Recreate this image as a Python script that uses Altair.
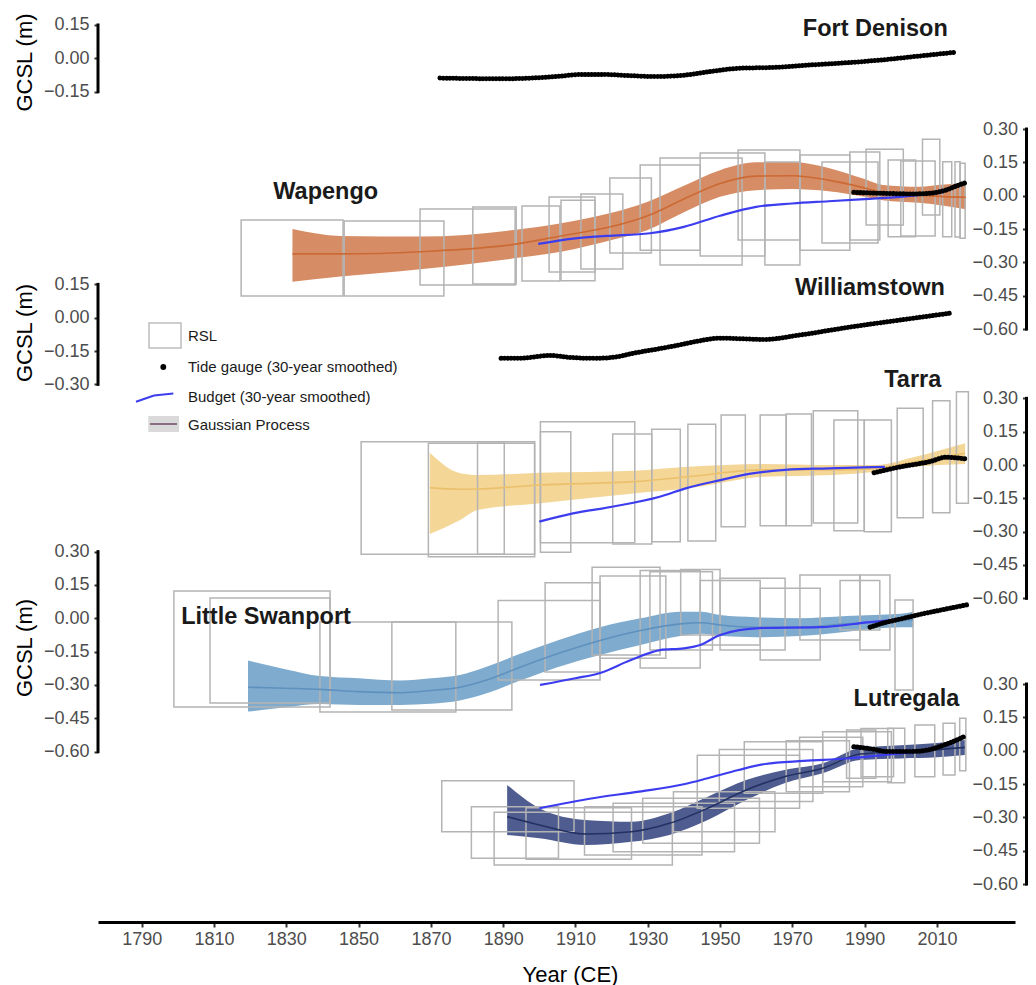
import altair as alt
import pandas as pd

FONT = "Liberation Sans"

# ================= DATA =================
# ---- Fort Denison: tide gauge (30-year smoothed)
fd_tide_year = [1872.5, 1880, 1890, 1900, 1906, 1911, 1918, 1925, 1932, 1940, 1948, 1955, 1965, 1975, 1985, 1995, 2005, 2015]
fd_tide_val = [-0.089, -0.091, -0.092, -0.087, -0.080, -0.073, -0.073, -0.078, -0.082, -0.076, -0.058, -0.045, -0.041, -0.030, -0.020, -0.007, 0.010, 0.027]

# ---- Wapengo
wap_box_x0 = [1817.5, 1846.0, 1867.0, 1881.6, 1895.2, 1902.7, 1906.0, 1911.5, 1919.5, 1927.9, 1933.4, 1944.5, 1955.0, 1962.4, 1972.1, 1978.2, 1985.9, 1990.4, 1996.5, 2000.0, 2006.0, 2011.6, 2015.0, 2016.4]
wap_box_x1 = [1845.7, 1873.6, 1893.3, 1893.6, 1905.7, 1915.4, 1915.4, 1923.1, 1931.0, 1944.5, 1956.1, 1962.4, 1972.1, 1972.1, 1985.9, 1993.7, 1994.2, 2000.7, 2004.1, 2009.5, 2010.8, 2014.1, 2016.4, 2017.8]
wap_box_lo = [-0.451, -0.451, -0.402, -0.397, -0.384, -0.343, -0.383, -0.330, -0.258, -0.245, -0.312, -0.271, -0.199, -0.312, -0.245, -0.213, -0.199, -0.132, -0.185, -0.181, -0.087, -0.185, -0.186, -0.192]
wap_box_hi = [-0.109, -0.114, -0.060, -0.051, -0.046, -0.006, -0.020, 0.008, 0.080, 0.138, 0.170, 0.192, 0.206, 0.152, 0.183, 0.152, 0.197, 0.209, 0.161, 0.156, 0.254, 0.153, 0.153, 0.146]
wap_gp_year = [1831.7, 1845, 1867, 1893, 1906, 1920, 1930, 1940, 1950, 1960, 1970, 1980, 1990, 1995, 2005, 2012, 2018]
wap_gp_mean = [-0.262, -0.262, -0.252, -0.219, -0.181, -0.139, -0.090, -0.015, 0.055, 0.088, 0.090, 0.070, 0.035, 0.015, 0.003, -0.004, -0.007]
wap_gp_lo = [-0.387, -0.364, -0.331, -0.282, -0.252, -0.199, -0.154, -0.075, -0.005, 0.025, 0.030, 0.020, -0.005, -0.020, -0.032, -0.045, -0.061]
wap_gp_hi = [-0.150, -0.181, -0.184, -0.154, -0.124, -0.077, -0.027, 0.045, 0.115, 0.150, 0.152, 0.125, 0.075, 0.048, 0.040, 0.050, 0.056]
wap_bud_year = [1899.7, 1910, 1918.6, 1930.6, 1940, 1950, 1960, 1970, 1980, 1990, 2000, 2010]
wap_bud_val = [-0.217, -0.192, -0.181, -0.169, -0.140, -0.090, -0.050, -0.035, -0.025, -0.015, -0.005, 0.010]
wap_tide_year = [1987, 1994.3, 2003.5, 2008, 2012.6, 2015.4, 2018]
wap_tide_val = [0.015, 0.011, 0.008, 0.011, 0.026, 0.044, 0.059]

# ---- Williamstown: tide gauge only
wil_tide_year = [1889.4, 1895, 1903, 1908, 1915, 1921, 1926, 1933, 1938, 1944, 1950, 1956, 1962, 1972, 1986, 2000, 2014]
wil_tide_val = [-0.183, -0.182, -0.170, -0.178, -0.183, -0.177, -0.160, -0.140, -0.125, -0.105, -0.092, -0.095, -0.098, -0.078, -0.042, -0.010, 0.021]

# ---- Tarra
tar_box_x0 = [1850.7, 1869.3, 1882.9, 1900.3, 1900.3, 1920.3, 1931.1, 1941.1, 1950.3, 1961.1, 1968.3, 1975.8, 1981.5, 1989.9, 1999.0, 2008.8, 2015.4]
tar_box_x1 = [1890.3, 1898.7, 1898.7, 1908.7, 1926.4, 1931.1, 1939.0, 1948.8, 1957.0, 1968.3, 1975.3, 1988.1, 1989.9, 1997.4, 2006.2, 2013.6, 2018.7]
tar_box_lo = [-0.402, -0.413, -0.402, -0.393, -0.350, -0.356, -0.345, -0.342, -0.278, -0.273, -0.273, -0.261, -0.296, -0.300, -0.237, -0.215, -0.172]
tar_box_hi = [0.105, 0.098, 0.105, 0.150, 0.195, 0.140, 0.161, 0.183, 0.225, 0.225, 0.230, 0.244, 0.203, 0.203, 0.255, 0.289, 0.330]
tar_gp_year = [1869.7, 1878.1, 1882.9, 1900.3, 1926.1, 1941.1, 1962.0, 1981.2, 1993.2, 2004.0, 2017.8]
tar_gp_mean = [-0.102, -0.109, -0.108, -0.090, -0.075, -0.053, -0.022, -0.022, -0.015, 0.015, 0.053]
tar_gp_lo = [-0.311, -0.248, -0.203, -0.172, -0.128, -0.105, -0.053, -0.045, -0.030, -0.008, 0.005]
tar_gp_hi = [0.055, -0.037, -0.045, -0.035, -0.026, -0.008, 0.005, 0.000, 0.000, 0.037, 0.098]
tar_bud_year = [1900.0, 1909.3, 1920.1, 1933.3, 1940.5, 1950.1, 1958, 1968, 1980, 1995.6]
tar_bud_val = [-0.255, -0.218, -0.188, -0.143, -0.105, -0.068, -0.040, -0.022, -0.015, -0.008]
tar_tide_year = [1992.6, 1996, 2000, 2004, 2008, 2012.5, 2015, 2018]
tar_tide_val = [-0.035, -0.022, -0.008, 0.003, 0.015, 0.035, 0.033, 0.027]

# ---- Little Swanport
ls_box_x0 = [1798.9, 1808.9, 1839.3, 1859.2, 1888.6, 1901.6, 1914.6, 1916.8, 1927.9, 1930.6, 1939.1, 1944.5, 1950.0, 1961.1, 1972.1, 1983.2, 1988.7, 1998.4]
ls_box_x1 = [1842.1, 1842.1, 1876.9, 1892.4, 1916.8, 1916.8, 1933.4, 1935.0, 1944.5, 1947.9, 1950.0, 1961.1, 1968.0, 1977.7, 1988.7, 1994.2, 1997.0, 2003.4]
ls_box_lo = [-0.399, -0.381, -0.422, -0.413, -0.278, -0.242, -0.165, -0.180, -0.224, -0.143, -0.075, -0.120, -0.143, -0.188, -0.098, -0.053, -0.143, -0.323]
ls_box_hi = [0.123, 0.091, -0.017, -0.017, 0.080, 0.160, 0.230, 0.190, 0.215, 0.210, 0.220, 0.170, 0.180, 0.135, 0.195, 0.170, 0.195, 0.082]
ls_gp_year = [1819.4, 1830, 1839.3, 1850, 1861.5, 1870, 1878, 1885, 1894.7, 1905, 1916.8, 1928, 1939, 1945, 1950, 1960, 1972, 1985, 2000, 2003.4]
ls_gp_mean = [-0.310, -0.315, -0.320, -0.330, -0.335, -0.325, -0.310, -0.280, -0.220, -0.160, -0.100, -0.055, -0.025, -0.020, -0.030, -0.040, -0.040, -0.025, -0.010, -0.005]
ls_gp_lo = [-0.420, -0.400, -0.386, -0.390, -0.390, -0.385, -0.370, -0.340, -0.280, -0.220, -0.165, -0.120, -0.080, -0.070, -0.080, -0.085, -0.080, -0.060, -0.040, -0.040]
ls_gp_hi = [-0.190, -0.230, -0.260, -0.270, -0.280, -0.270, -0.255, -0.220, -0.160, -0.100, -0.040, 0.000, 0.030, 0.030, 0.015, 0.005, 0.000, 0.010, 0.020, 0.030]
ls_bud_year = [1900.2, 1910, 1916.8, 1925, 1933.4, 1940, 1944.5, 1950, 1961, 1977.7, 1991.5, 2000]
ls_bud_val = [-0.300, -0.270, -0.246, -0.190, -0.143, -0.135, -0.120, -0.075, -0.044, -0.040, -0.017, -0.005]
ls_tide_year = [1991.5, 1995, 2000, 2006, 2012, 2018.7]
ls_tide_val = [-0.040, -0.022, -0.003, 0.020, 0.040, 0.062]

# ---- Lutregala
lut_box_x0 = [1873.0, 1881.2, 1887.5, 1896.3, 1912.5, 1920.4, 1928.6, 1937.1, 1943.7, 1949.8, 1956.7, 1968.3, 1972.0, 1978.4, 1989.0, 1985.0, 1996.4, 2003.9, 2011.7, 2016.3]
lut_box_x1 = [1909.6, 1905.3, 1936.8, 1925.5, 1945.0, 1954.0, 1960.9, 1965.2, 1972.0, 1975.7, 1978.4, 1985.8, 1989.5, 1997.4, 1998.0, 1993.1, 2001.1, 2009.4, 2015.0, 2018.0]
lut_box_lo = [-0.365, -0.484, -0.514, -0.489, -0.469, -0.455, -0.417, -0.365, -0.259, -0.229, -0.192, -0.185, -0.162, -0.140, -0.117, -0.124, -0.144, -0.117, -0.109, -0.090]
lut_box_hi = [-0.135, -0.252, -0.277, -0.257, -0.252, -0.237, -0.214, -0.185, -0.020, 0.005, 0.040, 0.045, 0.060, 0.085, 0.100, 0.093, 0.101, 0.116, 0.123, 0.146]
lut_gp_year = [1891.1, 1900, 1912.7, 1925.5, 1936, 1946.6, 1957.2, 1967.8, 1978.4, 1988.7, 2000, 2010, 2017.7]
lut_gp_mean = [-0.297, -0.334, -0.375, -0.365, -0.327, -0.259, -0.177, -0.117, -0.079, -0.015, -0.005, 0.005, 0.015]
lut_gp_lo = [-0.379, -0.394, -0.424, -0.410, -0.379, -0.312, -0.222, -0.147, -0.102, -0.042, -0.035, -0.030, -0.019]
lut_gp_hi = [-0.154, -0.259, -0.312, -0.320, -0.282, -0.207, -0.132, -0.087, -0.057, 0.012, 0.025, 0.035, 0.048]
lut_bud_year = [1900.0, 1914.8, 1927.6, 1940.3, 1946.6, 1955.1, 1962.5, 1973.1, 1985, 1995, 2005]
lut_bud_val = [-0.259, -0.214, -0.184, -0.150, -0.124, -0.087, -0.060, -0.046, -0.035, -0.020, -0.005]
lut_tide_year = [1987, 1993, 1996, 2004, 2008, 2011, 2015, 2017.5]
lut_tide_val = [0.018, 0.005, -0.004, -0.003, 0.005, 0.020, 0.045, 0.063]

# ---- axis tick values
ticks_fd = [0.15, 0.0, -0.15]
ticks_wil = [0.15, 0.0, -0.15, -0.30]
ticks_big = [0.30, 0.15, 0.0, -0.15, -0.30, -0.45, -0.60]
x_ticks = [1790, 1810, 1830, 1850, 1870, 1890, 1910, 1930, 1950, 1970, 1990, 2010]

# ================= LAYOUT =================
PLOT_W = 917
PLOT_H = 912
TOP_PX = 10            # page y of the plot top
BOTTOM_PX = TOP_PX + PLOT_H
PX_PER_M = 222.2
X_DOMAIN = [1777.9, 2031.6]
RIGHT_AXIS_X = 928.5   # keeps the whole svg within the 1020px-wide page body

BOX_COLOR = "#b4b4b4"
BUDGET_COLOR = "#3d3df0"

xscale = alt.Scale(domain=X_DOMAIN, nice=False, zero=False)

x_axis = alt.Axis(values=x_ticks, format="d", domain=True, domainColor="black", domainWidth=3,
                  grid=False, tickSize=5, tickWidth=2, tickColor="#333333",
                  labelColor="#4d4d4d", labelFont=FONT, labelFontSize=18, labelPadding=3,
                  labelFlush=False, labelOverlap=False,
                  title="Year (CE)", titleFont=FONT, titleFontSize=22, titleFontWeight="normal",
                  titleColor="black", titleX=472, titleY=59, titleAlign="center",
                  titleBaseline="alphabetic")


def X(field):
    return alt.X(field, type="quantitative", scale=xscale, axis=x_axis)


def yscale(zero_px):
    return alt.Scale(domain=[(zero_px - BOTTOM_PX) / PX_PER_M, (zero_px - TOP_PX) / PX_PER_M],
                     nice=False, zero=False)


def y_axis(vals, side, title_y=None):
    kw = dict(orient="left", values=vals, format=".2f", domain=False, grid=False,
              ticks=True, tickSize=4, tickWidth=2, tickColor="#333333",
              labelColor="#4d4d4d", labelFont=FONT, labelFontSize=18, labelPadding=5,
              labelOverlap=False)
    if side == "left":
        kw.update(offset=0, title="GCSL (m)", titleFont=FONT, titleFontSize=22,
                  titleFontWeight="normal", titleColor="black", titleX=-73.5,
                  titleY=title_y - TOP_PX, titleAlign="center", titleBaseline="middle")
    else:
        kw.update(offset=-RIGHT_AXIS_X, title=None)
    return alt.Axis(**kw)


def site(zero_px, vals, side, label, title_y=None, boxes=None, gp=None, budget=None, tide=None):
    ys = yscale(zero_px)
    ax = y_axis(vals, side, title_y)

    def Y(f):
        return alt.Y(f, type="quantitative", scale=ys, axis=ax)

    parts = []
    axis_df = pd.DataFrame({"top": [max(vals)], "bot": [min(vals)]})
    parts.append(
        alt.Chart(axis_df).mark_rule(color="black", strokeWidth=3, strokeCap="square").encode(
            x=alt.value(0 if side == "left" else RIGHT_AXIS_X),
            y=Y("top"),
            y2="bot:Q",
        )
    )
    if gp is not None:
        yr, mean, lo, hi, band_col, line_col = gp
        gdf = pd.DataFrame({"year": yr, "mean": mean, "lo": lo, "hi": hi})
        parts.append(alt.Chart(gdf).mark_area(color=band_col, opacity=0.95, interpolate="monotone")
                     .encode(x=X("year"), y=Y("lo"), y2="hi"))
    if boxes is not None:
        x0, x1, lo, hi = boxes
        bdf = pd.DataFrame({"x0": x0, "x1": x1, "lo": lo, "hi": hi})
        parts.append(alt.Chart(bdf).mark_rect(fillOpacity=0, stroke=BOX_COLOR, strokeWidth=1.5)
                     .encode(x=X("x0"), x2="x1", y=Y("lo"), y2="hi"))
    if gp is not None:
        parts.append(alt.Chart(gdf).mark_line(color=line_col, strokeWidth=1.6, interpolate="monotone")
                     .encode(x=X("year"), y=Y("mean")))
    if budget is not None:
        ddf = pd.DataFrame({"year": budget[0], "v": budget[1]})
        parts.append(alt.Chart(ddf).mark_line(color=BUDGET_COLOR, strokeWidth=2.2, interpolate="monotone")
                     .encode(x=X("year"), y=Y("v")))
    if tide is not None:
        tdf = pd.DataFrame({"year": tide[0], "v": tide[1]})
        parts.append(alt.Chart(tdf).mark_line(color="black", strokeWidth=5, strokeDash=[0.1, 3.2],
                                              strokeCap="round", interpolate="monotone")
                     .encode(x=X("year"), y=Y("v")))
    name, lx, ly, align = label
    ldf = pd.DataFrame({"t": [name], "x": [lx], "y": [ly]})
    parts.append(alt.Chart(ldf).mark_text(font=FONT, fontSize=23.5, fontWeight="bold", color="#1a1a1a",
                                          align=align, baseline="alphabetic")
                 .encode(x=X("x"), y=Y("y"), text="t:N"))
    return alt.layer(*parts)


fd = site(58.3, ticks_fd, "left", ("Fort Denison", 2013.0, 0.100, "right"), title_y=62,
          tide=(fd_tide_year, fd_tide_val))
wap = site(195.7, ticks_big, "right", ("Wapengo", 1826.4, -0.013, "left"),
           boxes=(wap_box_x0, wap_box_x1, wap_box_lo, wap_box_hi),
           gp=(wap_gp_year, wap_gp_mean, wap_gp_lo, wap_gp_hi, "#d4865c", "#cc6a35"),
           budget=(wap_bud_year, wap_bud_val), tide=(wap_tide_year, wap_tide_val))
wil = site(317.7, ticks_wil, "left", ("Williamstown", 2012.2, 0.102, "right"), title_y=332.5,
           tide=(wil_tide_year, wil_tide_val))
tar = site(465.0, ticks_big, "right", ("Tarra", 2011.2, 0.352, "right"),
           boxes=(tar_box_x0, tar_box_x1, tar_box_lo, tar_box_hi),
           gp=(tar_gp_year, tar_gp_mean, tar_gp_lo, tar_gp_hi, "#f3d491", "#ebc06c"),
           budget=(tar_bud_year, tar_bud_val), tide=(tar_tide_year, tar_tide_val))
ls = site(618.3, ticks_big, "left", ("Little Swanport", 1800.9, -0.026, "left"), title_y=647.5,
          boxes=(ls_box_x0, ls_box_x1, ls_box_lo, ls_box_hi),
          gp=(ls_gp_year, ls_gp_mean, ls_gp_lo, ls_gp_hi, "#78a7cb", "#5f91be"),
          budget=(ls_bud_year, ls_bud_val), tide=(ls_tide_year, ls_tide_val))
lut = site(750.7, ticks_big, "right", ("Lutregala", 2016.2, 0.2025, "right"),
           boxes=(lut_box_x0, lut_box_x1, lut_box_lo, lut_box_hi),
           gp=(lut_gp_year, lut_gp_mean, lut_gp_lo, lut_gp_hi, "#44538a", "#223162"),
           budget=(lut_bud_year, lut_bud_val), tide=(lut_tide_year, lut_tide_val))

# ---- legend (guide drawn in plot pixels)
one = pd.DataFrame({"k": [0]})
leg_text = dict(font=FONT, fontSize=15, color="#1a1a1a", align="left", baseline="middle")
legend = alt.layer(
    alt.Chart(one).mark_rect(fillOpacity=0, stroke="#bdbdbd", strokeWidth=1.5).encode(
        x=alt.value(51), x2=alt.value(83), y=alt.value(313), y2=alt.value(338)),
    alt.Chart(one).mark_text(**leg_text).encode(x=alt.value(90), y=alt.value(326), text=alt.value("RSL")),
    alt.Chart(one).mark_point(filled=True, color="black", size=34, opacity=1).encode(
        x=alt.value(65.3), y=alt.value(357)),
    alt.Chart(one).mark_text(**leg_text).encode(x=alt.value(90), y=alt.value(357),
                                                text=alt.value("Tide gauge (30-year smoothed)")),
    alt.Chart(one).mark_rule(color=BUDGET_COLOR, strokeWidth=2).encode(
        x=alt.value(38), x2=alt.value(56), y=alt.value(391.7), y2=alt.value(385.5)),
    alt.Chart(one).mark_rule(color=BUDGET_COLOR, strokeWidth=2).encode(
        x=alt.value(56), x2=alt.value(75.3), y=alt.value(385.5), y2=alt.value(383.5)),
    alt.Chart(one).mark_text(**leg_text).encode(x=alt.value(90), y=alt.value(387),
                                                text=alt.value("Budget (30-year smoothed)")),
    alt.Chart(one).mark_rect(color="#d9d9d9").encode(
        x=alt.value(50.3), x2=alt.value(81), y=alt.value(406), y2=alt.value(422)),
    alt.Chart(one).mark_rule(color="#8a6f80", strokeWidth=2).encode(
        x=alt.value(52), x2=alt.value(79), y=alt.value(414)),
    alt.Chart(one).mark_text(**leg_text).encode(x=alt.value(90), y=alt.value(415),
                                                text=alt.value("Gaussian Process")),
)

chart = (
    alt.layer(fd, wap, wil, tar, ls, lut, legend)
    .resolve_scale(y="independent")
    .properties(width=PLOT_W, height=PLOT_H,
                autosize=alt.AutoSizeParams(type="none"),
                padding={"left": 90, "top": 2, "right": 13, "bottom": 66})
    .configure_view(strokeOpacity=0)
)

chart.save("out.html", embed_options={"renderer": "svg", "actions": False})
